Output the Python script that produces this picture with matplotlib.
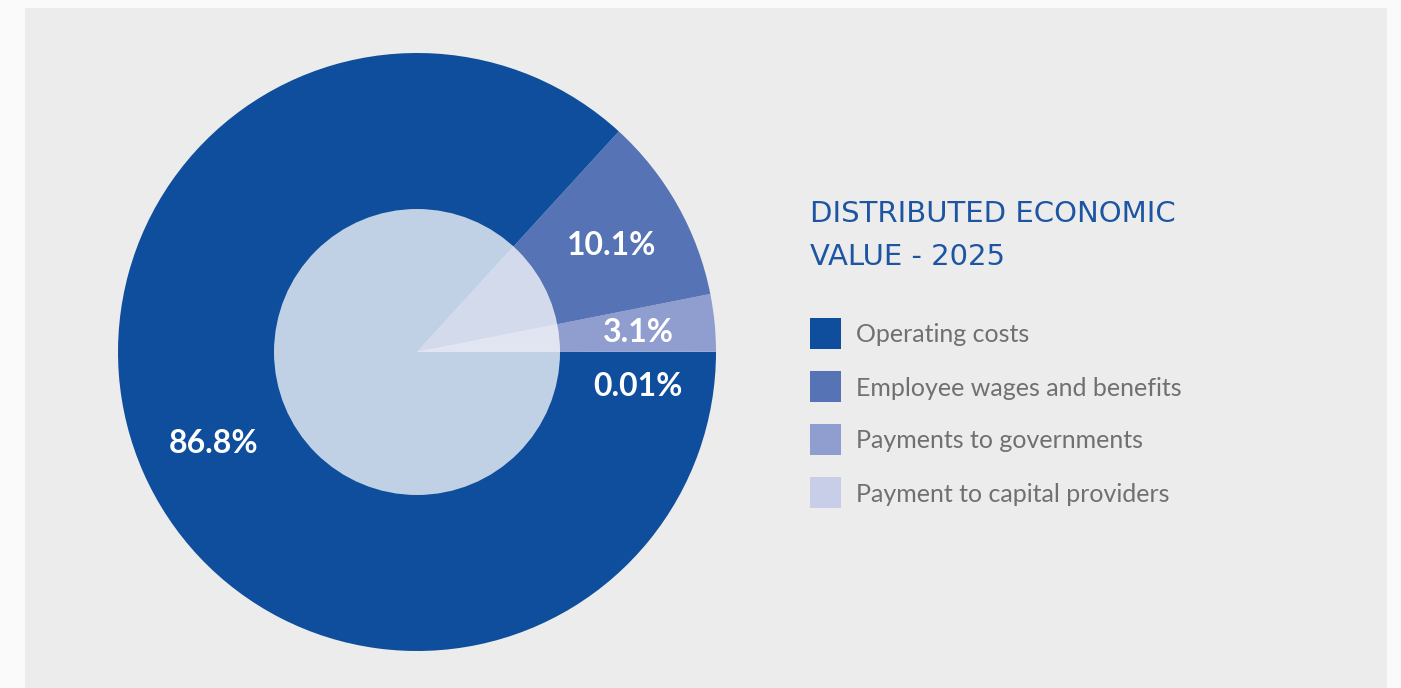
import numpy as np
import matplotlib
matplotlib.use("Agg")
import matplotlib.pyplot as plt
from matplotlib.patches import Rectangle, Circle

# distributed economic value 2025, in percent (counter-clockwise from 3 o'clock)
categories = ["Payment to capital providers", "Payments to governments",
              "Employee wages and benefits", "Operating costs"]
shares = [0.01, 3.1, 10.1, 86.8]
colors = ["#e6e8f4", "#8f9dcf", "#5673b6", "#0e4e9c"]
legend_colors = ["#c8cde8", "#8f9dcf", "#5673b6", "#0e4e9c"]
title_lines = ["DISTRIBUTED ECONOMIC", "VALUE - 2025"]

W, H = 1401, 688
fig = plt.figure(figsize=(W / 100, H / 100), dpi=100)
fig.patch.set_facecolor("#fafafa")

# pixel-space axes for panel, title and legend
bg = fig.add_axes([0, 0, 1, 1])
bg.set_xlim(0, W)
bg.set_ylim(H, 0)
bg.axis("off")
bg.add_patch(Rectangle((25, 8), 1362, 700, facecolor="#ececec", edgecolor="none"))

bg.text(810, 222, title_lines[0], fontsize=21, family="DejaVu Sans",
        color="#1d55a3", va="baseline", ha="left")
bg.text(810, 265, title_lines[1], fontsize=21, family="DejaVu Sans",
        color="#1d55a3", va="baseline", ha="left")

for i, (lab, col) in enumerate(zip(categories[::-1], legend_colors[::-1])):
    y = 318 + i * 53
    bg.add_patch(Rectangle((810, y), 31, 31, facecolor=col, edgecolor="none"))
    bg.text(856, y + 17, lab, fontsize=18, family="Lato", color="#707070",
            va="center", ha="left")

# donut-like pie
cx, cy, r = 417, 352, 299
ax = fig.add_axes([(cx - r) / W, (H - cy - r) / H, 2 * r / W, 2 * r / H])
ax.set_aspect("equal")
wedges, _ = ax.pie(shares, colors=colors, startangle=0, counterclock=True,
                   radius=1, wedgeprops=dict(linewidth=0))
wedges[0].set_edgecolor(colors[0])
wedges[0].set_linewidth(1.6)
ax.add_patch(Circle((0, 0), 143 / r, facecolor="white", alpha=0.74,
                    edgecolor="none", zorder=3))
ax.set_xlim(-1, 1)
ax.set_ylim(-1, 1)
ax.axis("off")

for w, v in zip(wedges, shares):
    mid = np.deg2rad((w.theta1 + w.theta2) / 2)
    if v < 1:
        mid = np.deg2rad(-8.2)
    txt = f"{v:g}%"
    ax.text(0.745 * np.cos(mid), 0.74 * np.sin(mid), txt, color="white",
            fontsize=23, family="Lato", weight="bold", ha="center",
            va="center_baseline", zorder=4)

fig.savefig("out.png", dpi=100, facecolor=fig.get_facecolor())
